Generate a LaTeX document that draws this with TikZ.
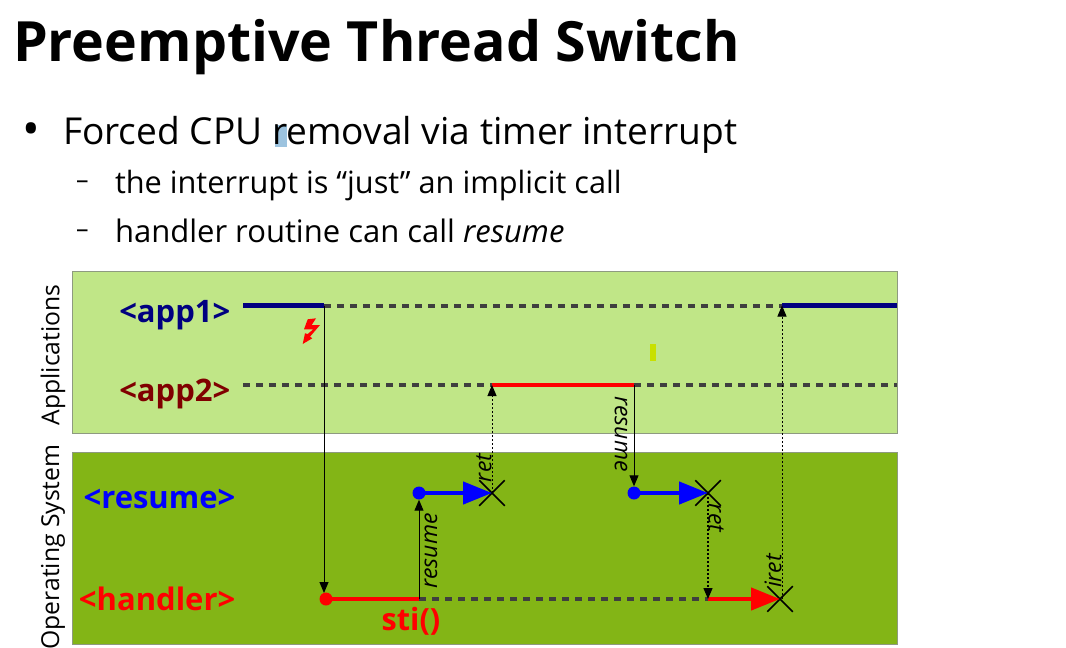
\documentclass[tikz,border=0pt]{standalone}
\usepackage{fontspec}
\setmainfont{Open Sans}
\usetikzlibrary{arrows.meta,shapes.misc}
\definecolor{panelapp}{HTML}{C0E687}
\definecolor{panelos}{HTML}{83B516}
\definecolor{panelline}{HTML}{8E9A80}
\definecolor{dashgray}{HTML}{3F3F3F}
\definecolor{appnavy}{HTML}{000080}
\definecolor{appmaroon}{HTML}{800000}
\definecolor{marksel}{HTML}{9CC3DF}
\definecolor{markdot}{HTML}{C8E000}
\tikzset{
  panel/.style={draw=panelline,line width=1pt},
  txt/.style={anchor=base west,inner sep=0pt,outer sep=0pt},
  rowlabel/.style={font=\fontsize{31}{31}\selectfont\bfseries,anchor=base east,inner sep=0pt},
  sidelabel/.style={font=\fontsize{24.7}{24.7}\selectfont,rotate=90,inner sep=0pt},
  calllabel/.style={font=\fontsize{23}{23}\selectfont\itshape,inner sep=0pt},
  idle/.style={draw=dashgray,line width=4pt,dash pattern=on 7pt off 6pt},
  run/.style={line width=4.5pt},
  flow/.style={draw=black,line width=1pt,-{Triangle[length=11pt,width=9pt]}},
  flowdot/.style={draw=black,line width=1pt,dash pattern=on 2pt off 2pt,-{Triangle[length=11pt,width=9pt]}},
  runarrow/.style={line width=4.5pt,-{Triangle[length=29pt,width=22pt]}},
  startdot/.style={circle,inner sep=0pt,minimum size=13pt},
  xmark/.style={cross out,draw=black,line width=1.5pt,inner sep=0pt,minimum size=24pt},
}
\begin{document}
\begin{tikzpicture}[x=1pt,y=-1pt]
    \useasboundingbox (0,0) rectangle (1066,648);
    % text block
    \node[txt,font=\fontsize{55.5}{55.5}\selectfont\bfseries] (title) at (13,61) {Preemptive Thread Switch};
    \fill[marksel] (275,125) rectangle (287,147);
    \node[txt,font=\fontsize{47}{47}\selectfont] (bullet) at (23,145) {•};
    \node[txt,font=\fontsize{37.1}{37.1}\selectfont] (main) at (63,144) {Forced CPU removal via timer interrupt};
    \node[txt,font=\fontsize{25}{25}\selectfont] (dasha) at (76,188.5) {–};
    \node[txt,font=\fontsize{30.7}{30.7}\selectfont] (suba) at (115,193) {the interrupt is “just” an implicit call};
    \node[txt,font=\fontsize{25}{25}\selectfont] (dashb) at (76,237.5) {–};
    \node[txt,font=\fontsize{31}{31}\selectfont] (subb) at (115,242) {handler routine can call \textit{resume}};
    % panels
    \draw[panel,fill=panelapp] (72,271) rectangle (897,433);
    \draw[panel,fill=panelos] (72,452) rectangle (897,644);
    \node[sidelabel] (applications) at (53,355) {Applications};
    \node[sidelabel] (opsystem) at (53,547) {Operating System};
    \fill[markdot] (650,344) rectangle (656,361);
    \fill[red] (307.7,319.3) -- (316,318.3) -- (311.7,325) -- (320,325) -- (310,336.7) -- (312.3,338.3)
      -- (302.7,344) -- (305,333.3) -- (307.7,334) -- (313.3,329.3) -- (304,329.3) -- cycle;
    % row labels
    \node[rowlabel,text=appnavy] (app1) at (230.5,322) {<app1>};
    \node[rowlabel,text=appmaroon] (app2) at (230.5,401) {<app2>};
    \node[rowlabel,text=blue] (resume) at (235.5,508) {<resume>};
    \node[rowlabel,text=red] (handler) at (235.5,610) {<handler>};
    \node[font=\fontsize{30.6}{30.6}\selectfont\bfseries,text=red,inner sep=0pt] (sti) at (411,621) {sti()};
    % points on the rows
    \coordinate (a1start) at (243,305.5);
    \coordinate (a1stop) at (324,305.5);
    \coordinate (a1back) at (782,305.5);
    \coordinate (a1end) at (897,305.5);
    \coordinate (a2start) at (243,385);
    \coordinate (a2run) at (492,385);
    \coordinate (a2stop) at (634,385);
    \coordinate (a2end) at (897,385);
    \coordinate (hcall) at (419,599);
    \coordinate (hback) at (708,599);
    \coordinate (hin) at (324,593);
    \node[startdot,fill=blue] (r1dot) at (419,493) {};
    \node[startdot,fill=blue] (r2dot) at (634,493) {};
    \node[startdot,fill=red] (hdot) at (326,599) {};
    \node[xmark] (r1x) at (492,493) {};
    \node[xmark] (r2x) at (708,493) {};
    \node[xmark] (hx) at (780,599) {};
    \coordinate (hxup) at (782,599);
    % timelines
    \draw[idle] (a1stop) -- (a1back);
    \draw[idle] (a2start) -- (a2run);
    \draw[idle] (a2stop) -- (a2end);
    \draw[idle] (hcall) -- (hback);
    \draw[run,appnavy,line width=5pt] (a1start) -- (a1stop);
    \draw[run,appnavy,line width=5pt] (a1back) -- (a1end);
    \draw[run,red] (a2run) -- (a2stop);
    \draw[run,red] (hdot.center) -- (hcall);
    \draw[runarrow,blue] (r1dot.center) -- (r1x.center);
    \draw[runarrow,blue] (r2dot.center) -- (r2x.center);
    \draw[runarrow,red] (hback) -- (hx.center);
    % calls and returns
    \draw[flow] (a1stop) -- (hin);
    \draw[flow] (hcall) -- (r1dot.south);
    \draw[flow] (a2stop) -- (r2dot.north);
    \draw[flowdot] (r1x.center) -- (a2run);
    \draw[flowdot,line width=1.4pt] (r2x.center) -- (hback);
    \draw[flowdot] (hxup) -- (a1back);
    \node[calllabel,rotate=90] (lres1) at (431,551) {resume};
    \node[calllabel,rotate=90] (lret1) at (484,468) {ret};
    \node[calllabel,rotate=-90] (lres2) at (621,434) {resume};
    \node[calllabel,rotate=-90] (lret2) at (716,518) {ret};
    \node[calllabel,rotate=90] (liret) at (773,571) {iret};
\end{tikzpicture}
\end{document}
